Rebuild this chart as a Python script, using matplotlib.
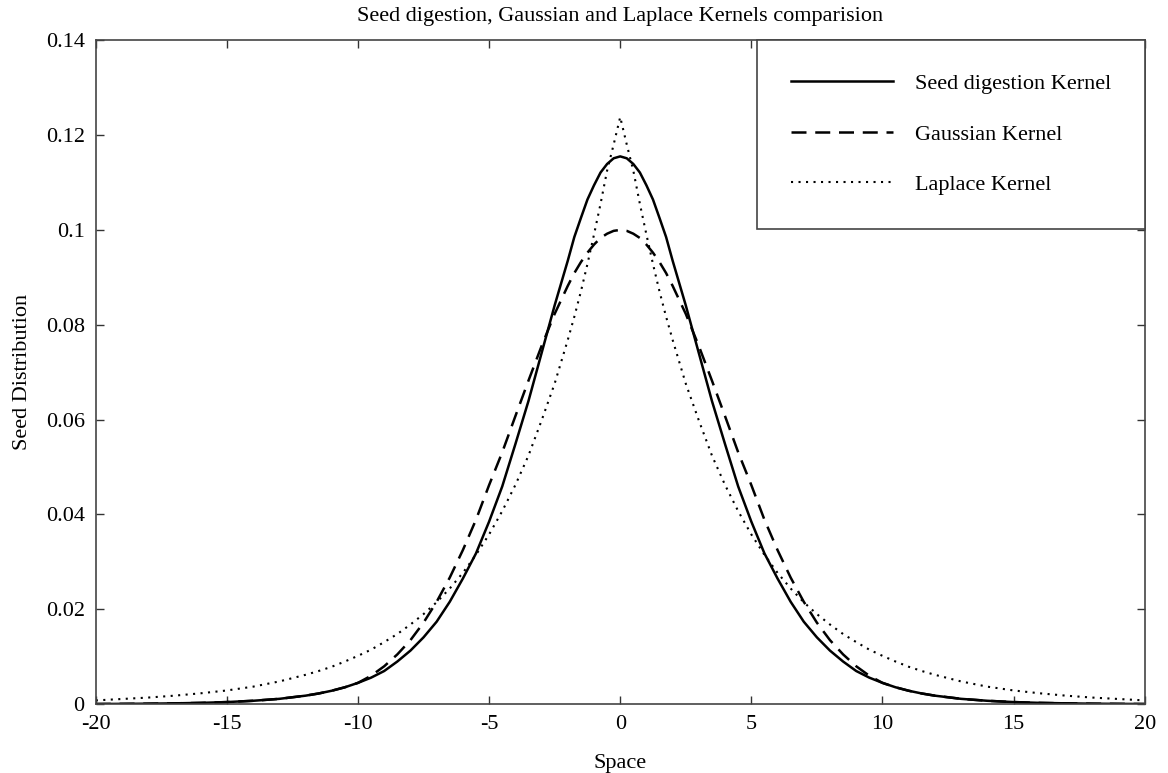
import matplotlib
matplotlib.use('Agg')
import matplotlib.pyplot as plt
from matplotlib.ticker import FuncFormatter

# values
space = [-20, -19, -18, -17, -16, -15, -14, -13,
         -12, -11.5, -11, -10.5, -10, -9.5, -9, -8.5, -8, -7.5, -7, -6.5,
         -6, -5.5, -5, -4.5, -4, -3.5, -3, -2.5,
         -2, -1.75, -1.5, -1.25, -1, -0.75, -0.5, -0.25,
         0,
         0.25, 0.5, 0.75, 1, 1.25, 1.5, 1.75, 2,
         2.5, 3, 3.5, 4, 4.5, 5, 5.5, 6,
         6.5, 7, 7.5, 8, 8.5, 9, 9.5, 10, 10.5, 11, 11.5, 12,
         13, 14, 15, 16, 17, 18, 19, 20]

seed_kernel = [0.00004, 0.00007, 0.00011, 0.00018, 0.00028, 0.00045, 0.00072, 0.00113,
               0.0018, 0.00226, 0.00284, 0.00357, 0.0045, 0.0056, 0.0070, 0.0090, 0.0113,
               0.0141, 0.0174, 0.0216,
               0.0265, 0.0318, 0.0385, 0.0459, 0.0548, 0.0639, 0.0740, 0.0841,
               0.0935, 0.0985, 0.1025, 0.1064, 0.1094, 0.1121, 0.1139, 0.1151,
               0.1155,
               0.1151, 0.1139, 0.1121, 0.1094, 0.1064, 0.1025, 0.0985, 0.0935,
               0.0841, 0.0740, 0.0639, 0.0548, 0.0459, 0.0385, 0.0318, 0.0265,
               0.0216, 0.0174, 0.0141, 0.0113, 0.0090, 0.0070, 0.0056, 0.0045, 0.00357,
               0.00284, 0.00226, 0.0018,
               0.00113, 0.00072, 0.00045, 0.00028, 0.00018, 0.00011, 0.00007, 0.00004]

gauss_kernel = [0.00004, 0.00007, 0.00011, 0.00018, 0.00028, 0.00045, 0.00072, 0.00113,
                0.0018, 0.00226, 0.00284, 0.00357, 0.0045, 0.0060, 0.0080, 0.0105, 0.0135,
                0.0172, 0.0216, 0.0267,
                0.0325, 0.0389, 0.0462, 0.0531, 0.0607, 0.0682, 0.0755, 0.0823,
                0.0882, 0.0909, 0.0932, 0.0952, 0.0969, 0.0983, 0.0992, 0.0998,
                0.1000,
                0.0998, 0.0992, 0.0983, 0.0969, 0.0952, 0.0932, 0.0909, 0.0882,
                0.0823, 0.0755, 0.0682, 0.0607, 0.0531, 0.0462, 0.0389, 0.0325,
                0.0267, 0.0216, 0.0172, 0.0135, 0.0105, 0.0080, 0.0060, 0.0045, 0.00357,
                0.00284, 0.00226, 0.0018,
                0.00113, 0.00072, 0.00045, 0.00028, 0.00018, 0.00011, 0.00007, 0.00004]

laplace_kernel = [0.0008, 0.0011, 0.0014, 0.0018, 0.0023, 0.0029, 0.0037, 0.0048,
                  0.0062, 0.0070, 0.0079, 0.0090, 0.0102, 0.0115, 0.0131, 0.0148, 0.0168,
                  0.0190, 0.0215, 0.0244,
                  0.0277, 0.0315, 0.0358, 0.0407, 0.0462, 0.0524, 0.0598, 0.0676,
                  0.0768, 0.0817, 0.0870, 0.0928, 0.0990, 0.1055, 0.1125, 0.1180,
                  0.1238,
                  0.1180, 0.1125, 0.1055, 0.0990, 0.0928, 0.0870, 0.0817, 0.0768,
                  0.0676, 0.0598, 0.0524, 0.0462, 0.0407, 0.0358, 0.0315, 0.0277,
                  0.0244, 0.0215, 0.0190, 0.0168, 0.0148, 0.0131, 0.0115, 0.0102, 0.0090,
                  0.0079, 0.0070, 0.0062,
                  0.0048, 0.0037, 0.0029, 0.0023, 0.0018, 0.0014, 0.0011, 0.0008]

x_ticks = [-20, -15, -10, -5, 0, 5, 10, 15, 20]
y_ticks = [0, 0.02, 0.04, 0.06, 0.08, 0.1, 0.12, 0.14]

plt.rcParams['font.family'] = ['Liberation Serif', 'DejaVu Serif']
plt.rcParams['font.size'] = 16
plt.rcParams['axes.unicode_minus'] = False

fig = plt.figure(figsize=(11.68, 7.73), dpi=100)
ax = fig.add_axes([0.082, 0.089, 0.898, 0.859])

ax.plot(space, seed_kernel, color='black', lw=1.8, label='Seed digestion Kernel')
ax.plot(space, gauss_kernel, color='black', lw=1.8, linestyle=(0, (6, 3.5)),
        label='Gaussian Kernel')
ax.plot(space, laplace_kernel, color='black', lw=1.5, linestyle=(0, (1, 2.6)),
        label='Laplace Kernel')

ax.set_xlim(-20, 20)
ax.set_ylim(0, 0.14)
ax.set_xticks(x_ticks)
ax.set_yticks(y_ticks)
ax.yaxis.set_major_formatter(FuncFormatter(lambda v, pos: f"{v:g}"))
ax.tick_params(direction='in', length=6, width=1, top=True, right=True,
               colors='#333333', labelcolor='black')
ax.tick_params(axis='x', pad=8)
ax.tick_params(axis='y', pad=8)
for sp in ax.spines.values():
    sp.set_color('#444444')
    sp.set_linewidth(1.2)

ax.set_title('Seed digestion, Gaussian and Laplace Kernels comparision', fontsize=16, pad=14)
ax.set_xlabel('Space', labelpad=14)
ax.set_ylabel('Seed Distribution', labelpad=10)

leg = ax.legend(loc='upper right', borderaxespad=0, borderpad=1.5, labelspacing=1.35,
                handlelength=4.6, handletextpad=1.0, fancybox=False, framealpha=1)
leg.get_frame().set_edgecolor('#444444')
leg.get_frame().set_linewidth(1.2)

plt.savefig('out.png', dpi=100)
plt.close()
